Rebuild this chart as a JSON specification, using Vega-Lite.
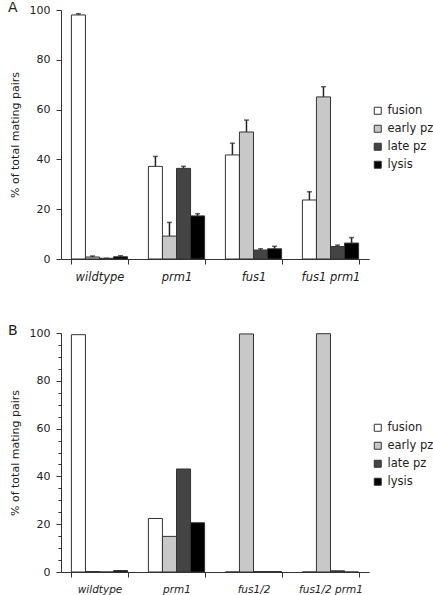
{
  "$schema": "https://vega.github.io/schema/vega-lite/v6.json",
  "padding": {"left": 8, "top": 1, "right": 0, "bottom": 0},
  "background": "white",
  "config": {
    "font": "DejaVu Sans",
    "view": {"stroke": null},
    "axis": {"domainColor": "#333", "tickColor": "#333", "labelColor": "#222", "titleColor": "#222", "labelFontSize": 11, "titleFontSize": 11, "titleFontWeight": "normal", "grid": false},
    "legend": {"labelFontSize": 11.5, "labelColor": "#222", "symbolType": "square", "symbolSize": 49, "symbolStrokeColor": "#333", "symbolStrokeWidth": 1, "rowPadding": 5, "labelOffset": 4, "padding": 0},
    "title": {"fontSize": 14, "fontWeight": "normal", "anchor": "start", "frame": "group", "color": "#222"}
  },
  "datasets": {
    "a": [
      {"genotype": "wildtype", "stage": "fusion", "value": 98.0, "hi": 98.5},
      {"genotype": "wildtype", "stage": "early pz", "value": 0.8, "hi": 1.2},
      {"genotype": "wildtype", "stage": "late pz", "value": 0.3, "hi": 0.3},
      {"genotype": "wildtype", "stage": "lysis", "value": 0.9, "hi": 1.3},
      {"genotype": "prm1", "stage": "fusion", "value": 37.2, "hi": 41.2},
      {"genotype": "prm1", "stage": "early pz", "value": 9.2, "hi": 14.7},
      {"genotype": "prm1", "stage": "late pz", "value": 36.4, "hi": 37.2},
      {"genotype": "prm1", "stage": "lysis", "value": 17.3, "hi": 18.2},
      {"genotype": "fus1", "stage": "fusion", "value": 41.8, "hi": 46.5},
      {"genotype": "fus1", "stage": "early pz", "value": 51.0, "hi": 55.8},
      {"genotype": "fus1", "stage": "late pz", "value": 3.6, "hi": 4.1},
      {"genotype": "fus1", "stage": "lysis", "value": 4.1, "hi": 5.1},
      {"genotype": "fus1 prm1", "stage": "fusion", "value": 23.7, "hi": 27.0},
      {"genotype": "fus1 prm1", "stage": "early pz", "value": 65.1, "hi": 69.2},
      {"genotype": "fus1 prm1", "stage": "late pz", "value": 5.0, "hi": 5.6},
      {"genotype": "fus1 prm1", "stage": "lysis", "value": 6.4, "hi": 8.6}
    ],
    "b": [
      {"genotype": "wildtype", "stage": "fusion", "value": 99.3},
      {"genotype": "wildtype", "stage": "early pz", "value": 0.2},
      {"genotype": "wildtype", "stage": "late pz", "value": 0.0},
      {"genotype": "wildtype", "stage": "lysis", "value": 0.6},
      {"genotype": "prm1", "stage": "fusion", "value": 22.4},
      {"genotype": "prm1", "stage": "early pz", "value": 14.9},
      {"genotype": "prm1", "stage": "late pz", "value": 43.1},
      {"genotype": "prm1", "stage": "lysis", "value": 20.6},
      {"genotype": "fus1/2", "stage": "fusion", "value": 0.0},
      {"genotype": "fus1/2", "stage": "early pz", "value": 99.6},
      {"genotype": "fus1/2", "stage": "late pz", "value": 0.2},
      {"genotype": "fus1/2", "stage": "lysis", "value": 0.2},
      {"genotype": "fus1/2 prm1", "stage": "fusion", "value": 0.0},
      {"genotype": "fus1/2 prm1", "stage": "early pz", "value": 99.7},
      {"genotype": "fus1/2 prm1", "stage": "late pz", "value": 0.5},
      {"genotype": "fus1/2 prm1", "stage": "lysis", "value": 0.0}
    ]
  },
  "resolve": {"scale": {"color": "independent"}},
  "spacing": 41,
  "vconcat": [
    {
      "title": {"text": "A", "dx": -53, "offset": -22, "baseline": "alphabetic"},
      "width": 308,
      "height": 249,
      "data": {"name": "a"},
      "encoding": {
        "x": {"field": "genotype", "type": "nominal", "sort": null,
              "scale": {"paddingInner": 0.27, "paddingOuter": 0.135},
              "axis": {"title": null, "labelAngle": 0, "tickBand": "extent", "tickSize": 5, "labelFontStyle": "italic", "labelPadding": 7, "labelFontSize": 11.5}},
        "xOffset": {"field": "stage", "type": "nominal", "scale": {"domain": ["fusion", "early pz", "late pz", "lysis"], "paddingInner": 0, "paddingOuter": 0}}
      },
      "layer": [
        {
          "mark": {"type": "rule", "color": "#222", "strokeWidth": 1.5},
          "encoding": {
            "y": {"field": "value", "type": "quantitative", "scale": {"domain": [0, 100]}},
            "y2": {"field": "hi"}
          }
        },
        {
          "mark": {"type": "tick", "color": "#222", "thickness": 1.5, "size": 5, "orient": "horizontal"},
          "encoding": {
            "y": {"field": "hi", "type": "quantitative"}
          }
        },
        {
          "mark": {"type": "bar", "stroke": "#333", "strokeWidth": 1},
          "encoding": {
            "y": {"field": "value", "type": "quantitative", "scale": {"domain": [0, 100]},
                  "axis": {"title": "% of total mating pairs", "titlePadding": 9,
                           "values": [0,5,10,15,20,25,30,35,40,45,50,55,60,65,70,75,80,85,90,95,100],
                           "labelExpr": "datum.value % 20 === 0 ? datum.label : ''",
                           "tickSize": {"condition": {"test": "datum.value % 20 === 0", "value": 5}, "value": 3},
                           "labelPadding": 6}},
            "color": {"field": "stage", "type": "nominal",
                      "scale": {"domain": ["fusion", "early pz", "late pz", "lysis"], "range": ["#ffffff", "#c8c8c8", "#444444", "#000000"]},
                      "legend": {"title": null, "orient": "none", "legendX": 311, "legendY": 95}}
          }
        }
      ]
    },
    {
      "title": {"text": "B", "dx": -53, "offset": -22, "baseline": "alphabetic"},
      "width": 308,
      "height": 239,
      "data": {"name": "b"},
      "mark": {"type": "bar", "stroke": "#333", "strokeWidth": 1},
      "encoding": {
        "x": {"field": "genotype", "type": "nominal", "sort": null,
              "scale": {"paddingInner": 0.27, "paddingOuter": 0.135},
              "axis": {"title": null, "labelAngle": 0, "tickBand": "extent", "tickSize": 5, "labelFontStyle": "italic", "labelPadding": 7, "labelFontSize": 10.5}},
        "xOffset": {"field": "stage", "type": "nominal", "scale": {"domain": ["fusion", "early pz", "late pz", "lysis"], "paddingInner": 0, "paddingOuter": 0}},
        "y": {"field": "value", "type": "quantitative", "scale": {"domain": [0, 100]},
              "axis": {"title": "% of total mating pairs", "titlePadding": 9,
                       "values": [0,5,10,15,20,25,30,35,40,45,50,55,60,65,70,75,80,85,90,95,100],
                       "labelExpr": "datum.value % 20 === 0 ? datum.label : ''",
                       "tickSize": {"condition": {"test": "datum.value % 20 === 0", "value": 5}, "value": 3},
                       "labelPadding": 6}},
        "color": {"field": "stage", "type": "nominal",
                  "scale": {"domain": ["fusion", "early pz", "late pz", "lysis"], "range": ["#ffffff", "#c8c8c8", "#444444", "#000000"]},
                  "legend": {"title": null, "orient": "none", "legendX": 311, "legendY": 89}}
      }
    }
  ]
}
